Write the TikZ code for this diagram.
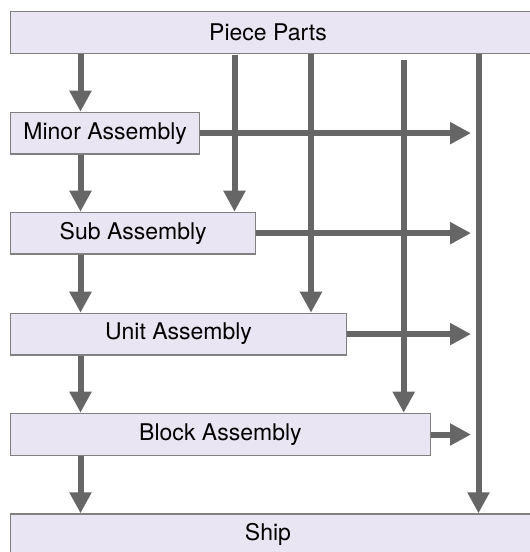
\documentclass[tikz,border=0pt]{standalone}
\usepackage{fontspec}
\setmainfont{TeX Gyre Heros}
\usetikzlibrary{arrows.meta}
\definecolor{boxfill}{RGB}{234,229,242}
\definecolor{boxline}{RGB}{128,128,128}
\definecolor{arr}{RGB}{102,102,102}
\begin{document}
\begin{tikzpicture}[x=1pt,y=-1pt,
  stage/.style={draw=boxline, line width=1.3pt, fill=boxfill, inner sep=0pt,
    anchor=north west, font=\fontsize{23}{27}\selectfont},
  stagelabel/.style={inner sep=0pt, font=\fontsize{23}{27}\selectfont},
  flow/.style={draw=arr, line width=6pt, -{Triangle[length=21pt,width=21pt]}}]
\useasboundingbox (0,0) rectangle (530,552);
% boxes
\node[stage, minimum width=530, minimum height=42] (piece) at (10,10.7) {};
\node[stagelabel] (pieceLabel) at (268,32) {Piece Parts};
\node[stage, minimum width=189, minimum height=41.6] (minor) at (10,111.7) {Minor Assembly};
\node[stage, minimum width=245, minimum height=41.6] (sub) at (10,211.7) {Sub Assembly};
\node[stage, minimum width=335.7, minimum height=41.5] (unit) at (10,312.7) {Unit Assembly};
\node[stage, minimum width=419.5, minimum height=42.3] (block) at (10,412.7) {Block Assembly};
\node[stage, minimum width=530, minimum height=42] (ship) at (10,513.3) {};
\node[stagelabel] (shipLabel) at (268,534.6) {Ship};
% column coordinates
\coordinate (colA) at (80.5,0);
\coordinate (startB) at (234.5,55);
\coordinate (colC) at (311,0);
\coordinate (startD) at (403.7,60);
\coordinate (colE) at (478.5,0);
\coordinate (tipX) at (471,0);
% left chain
\draw[flow] (piece.south -| colA) -- (minor.north -| colA);
\draw[flow] (minor.south -| colA) -- (sub.north -| colA);
\draw[flow] (sub.south -| colA) -- (unit.north -| colA);
\draw[flow] (unit.south -| colA) -- (block.north -| colA);
\draw[flow] (block.south -| colA) -- (ship.north -| colA);
% long verticals
\draw[flow] (startB) -- (sub.north -| startB);
\draw[flow] (piece.south -| colC) -- (unit.north -| colC);
\draw[flow] (startD) -- (block.north -| startD);
\draw[flow] (piece.south -| colE) -- (ship.north -| colE);
% horizontals
\draw[flow] (minor.east) -- (minor.east -| tipX);
\draw[flow] (sub.east) -- (sub.east -| tipX);
\draw[flow] (unit.east) -- (unit.east -| tipX);
\draw[flow] (block.east) -- (block.east -| tipX);
\end{tikzpicture}
\end{document}
